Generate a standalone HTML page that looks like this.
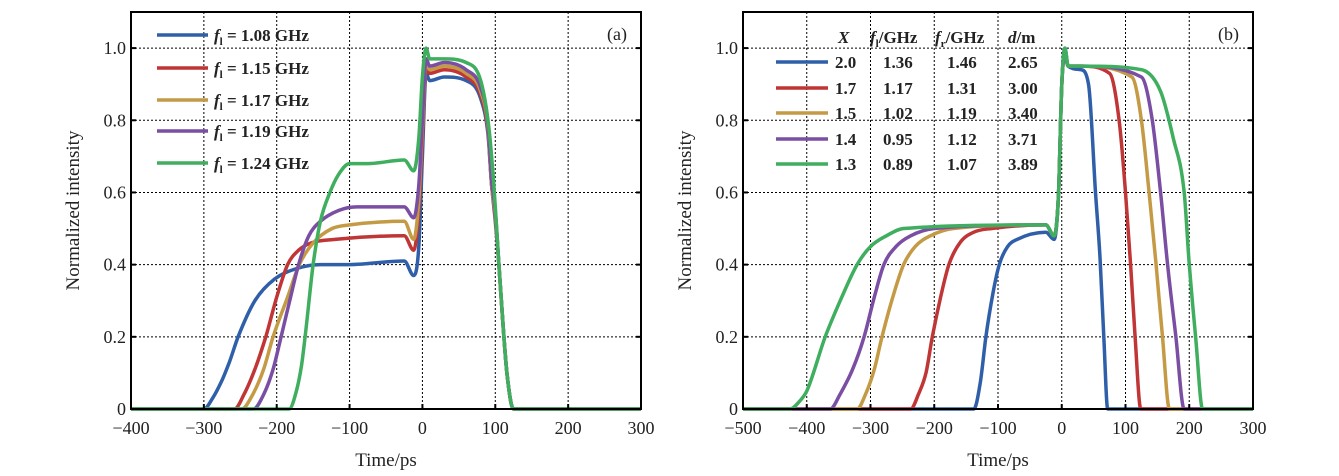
<!DOCTYPE html>
<html><head><meta charset="utf-8"><style>
html,body{margin:0;padding:0;background:#fff;width:1339px;height:476px;overflow:hidden}
svg text{font-family:"Liberation Serif",serif;fill:#222}
</style></head><body>
<svg id="fig" width="1339" height="476" xmlns="http://www.w3.org/2000/svg"></svg>
<script>
// ---- data ----
const colors = ["#2f5fa8","#c03535","#c49a45","#7a4ea3","#3fae5e"];
const legendA = ["1.08","1.15","1.17","1.19","1.24"];
const xTicksA = [-400,-300,-200,-100,0,100,200,300];
const xTicksB = [-500,-400,-300,-200,-100,0,100,200,300];
const yTicks = [0,0.2,0.4,0.6,0.8,1.0];
const yTickLabels = ["0","0.2","0.4","0.6","0.8","1.0"];
const colX = ["2.0","1.7","1.5","1.4","1.3"];
const colF1 = ["1.36","1.17","1.02","0.95","0.89"];
const colFr = ["1.46","1.31","1.19","1.12","1.07"];
const colD = ["2.65","3.00","3.40","3.71","3.89"];

const blueA_t=[-400,-300,-288,-275,-265,-253,-230,-203,-171,-140,-100,-25,-12,-5,0,5,10,30,60,80,90,95,100,105,110,116,125,300];
const blueA_v=[0,0,0.03,0.08,0.13,0.2,0.3,0.36,0.39,0.4,0.4,0.41,0.37,0.45,0.7,0.93,0.91,0.92,0.91,0.86,0.76,0.62,0.52,0.4,0.25,0.1,0,0];
const redA_t=[-400,-258,-245,-230,-215,-200,-185,-170,-153,-120,-25,-12,-5,0,5,10,30,60,80,90,95,100,105,110,116,125,300];
const redA_v=[0,0,0.04,0.11,0.2,0.31,0.4,0.44,0.46,0.47,0.48,0.44,0.55,0.75,0.95,0.93,0.94,0.92,0.87,0.77,0.62,0.53,0.4,0.25,0.1,0,0];
const goldA_t=[-400,-248,-233,-218,-205,-185,-169,-150,-124,-100,-25,-12,-5,0,5,10,30,60,80,90,95,100,105,110,116,125,300];
const goldA_v=[0,0,0.04,0.11,0.2,0.31,0.4,0.46,0.5,0.51,0.52,0.47,0.58,0.78,0.96,0.94,0.95,0.93,0.88,0.78,0.62,0.54,0.4,0.25,0.1,0,0];
const purpleA_t=[-400,-232,-218,-205,-194,-181,-170,-156,-140,-115,-90,-25,-12,-5,0,5,10,30,60,80,90,95,100,105,110,116,125,300];
const purpleA_v=[0,0,0.04,0.11,0.2,0.31,0.4,0.48,0.52,0.55,0.56,0.56,0.53,0.62,0.8,0.97,0.95,0.96,0.94,0.89,0.79,0.63,0.55,0.4,0.25,0.1,0,0];
const greenA_t=[-400,-183,-173,-166,-161,-150,-140,-127,-115,-100,-75,-25,-12,-5,0,5,10,30,60,80,90,95,100,105,110,116,125,300];
const greenA_v=[0,0,0.05,0.12,0.2,0.4,0.52,0.6,0.65,0.68,0.68,0.69,0.66,0.75,0.92,1.0,0.97,0.97,0.96,0.91,0.8,0.7,0.56,0.4,0.25,0.1,0,0];
const seriesA_t=[blueA_t,redA_t,goldA_t,purpleA_t,greenA_t];
const seriesA_v=[blueA_v,redA_v,goldA_v,purpleA_v,greenA_v];

const blueB_t=[-500,-138,-128,-119,-108,-98,-85,-70,-25,-12,-5,0,5,10,30,42,53,60,66,72,300];
const blueB_v=[0,0,0.07,0.2,0.32,0.4,0.45,0.47,0.49,0.47,0.6,0.9,1.0,0.95,0.94,0.9,0.6,0.42,0.2,0,0];
const redB_t=[-500,-237,-225,-213,-203,-190,-177,-160,-138,-110,-25,-12,-5,0,5,10,30,75,90,100,108,115,124,300];
const redB_v=[0,0,0.04,0.1,0.2,0.31,0.4,0.46,0.49,0.5,0.51,0.48,0.6,0.9,0.98,0.95,0.95,0.93,0.8,0.6,0.4,0.2,0,0];
const goldB_t=[-500,-321,-308,-294,-282,-265,-248,-230,-206,-170,-25,-12,-5,0,5,10,30,110,125,137,148,158,169,300];
const goldB_v=[0,0,0.04,0.11,0.2,0.31,0.4,0.45,0.48,0.5,0.51,0.48,0.6,0.9,0.98,0.95,0.95,0.92,0.8,0.6,0.4,0.2,0,0];
const purpleB_t=[-500,-363,-348,-328,-310,-294,-279,-260,-237,-200,-25,-12,-5,0,5,10,30,125,142,155,166,179,192,300];
const purpleB_v=[0,0,0.04,0.11,0.2,0.31,0.4,0.45,0.48,0.5,0.51,0.48,0.6,0.9,0.98,0.95,0.95,0.92,0.8,0.6,0.4,0.2,0,0];
const greenB_t=[-500,-426,-412,-400,-371,-345,-321,-300,-275,-248,-25,-12,-5,0,5,10,30,125,155,175,192,200,210,221,300];
const greenB_v=[0,0,0.02,0.05,0.2,0.31,0.4,0.45,0.48,0.5,0.51,0.48,0.6,0.9,1.0,0.95,0.95,0.94,0.88,0.75,0.6,0.4,0.2,0,0];
const seriesB_t=[blueB_t,redB_t,goldB_t,purpleB_t,greenB_t];
const seriesB_v=[blueB_v,redB_v,goldB_v,purpleB_v,greenB_v];

// ---- drawing ----
const NS="http://www.w3.org/2000/svg";
const svg=document.getElementById('fig');
function el(tag,attrs,parent,txt){const e=document.createElementNS(NS,tag);for(const k in attrs)e.setAttribute(k,attrs[k]);if(txt!==undefined)e.textContent=txt;(parent||svg).appendChild(e);return e;}

function smoothPath(px,py){
  const n=px.length,d=[],m=[];
  for(let i=0;i<n-1;i++)d.push((py[i+1]-py[i])/(px[i+1]-px[i]));
  m[0]=d[0];m[n-1]=d[n-2];
  for(let i=1;i<n-1;i++)m[i]=(d[i-1]*d[i]<=0)?0:(d[i-1]+d[i])/2;
  for(let i=0;i<n-1;i++){if(d[i]===0){m[i]=0;m[i+1]=0;continue;}const a=m[i]/d[i],b=m[i+1]/d[i],s=a*a+b*b;if(s>9){const t=3/Math.sqrt(s);m[i]=t*a*d[i];m[i+1]=t*b*d[i];}}
  let p='M'+px[0].toFixed(1)+','+py[0].toFixed(1);
  for(let i=0;i<n-1;i++){const h=(px[i+1]-px[i])/3;
    p+='C'+(px[i]+h).toFixed(1)+','+(py[i]+m[i]*h).toFixed(1)+' '+(px[i+1]-h).toFixed(1)+','+(py[i+1]-m[i+1]*h).toFixed(1)+' '+px[i+1].toFixed(1)+','+py[i+1].toFixed(1);}
  return p;
}

function panel(id,x0,x1,xmin,xmax,xTicks,ts,vs,label){
  const y0=409,yTop=12;
  const X=t=>x0+(t-xmin)/(xmax-xmin)*(x1-x0);
  const Y=v=>y0-v/1.1*(y0-yTop);
  const g=el('g',{});
  
  
  xTicks.forEach(t=>{if(t>xmin&&t<xmax){const l=el('line',{x1:X(t),x2:X(t),y1:yTop,y2:y0,stroke:'#000','stroke-width':1,'stroke-dasharray':'2,2'},g);}});
  yTicks.forEach(v=>{if(v>0){const l=el('line',{x1:x0,x2:x1,y1:Y(v),y2:Y(v),stroke:'#000','stroke-width':1,'stroke-dasharray':'2,2'},g);}});
  ts.forEach((tt,i)=>{
    const d=smoothPath(tt.map(X),vs[i].map(Y));
    const p=el('path',{d:d,fill:'none',stroke:colors[i],'stroke-width':3.5,'stroke-linejoin':'round'},g);
    
    
  });
  const f=el('rect',{x:x0,y:yTop,width:x1-x0,height:y0-yTop,fill:'none',stroke:'#000','stroke-width':2},g);
  
  
  xTicks.forEach(t=>{
    el('line',{x1:X(t),x2:X(t),y1:y0,y2:y0-5,stroke:'#000','stroke-width':2},g);
    const s=t<0?'\u2212'+(-t):String(t);
    const tx=el('text',{x:X(t),y:y0+25,'text-anchor':'middle','font-size':18},g,s);
    
    
  });
  yTicks.forEach((v,i)=>{
    el('line',{x1:x0,x2:x0+5,y1:Y(v),y2:Y(v),stroke:'#000','stroke-width':2},g);
    el('line',{x1:x1,x2:x1-5,y1:Y(v),y2:Y(v),stroke:'#000','stroke-width':2},g);
    const tx=el('text',{x:x0-5,y:Y(v)+6,'text-anchor':'end','font-size':18},g,yTickLabels[i]);
    
    
  });
  const xl=el('text',{x:(x0+x1)/2,y:466,'text-anchor':'middle','font-size':19},g,'Time/ps');
  
  
  const yl=el('text',{x:0,y:0,'text-anchor':'middle','font-size':19,transform:`translate(${x0-52},${(yTop+y0)/2}) rotate(-90)`},g,'Normalized intensity');
  
  
  const pl=el('text',{x:x1-14,y:40,'text-anchor':'end','font-size':18},g,label);
  
  
  return g;
}
const gA=panel('panel-a',131,641,-400,300,xTicksA,seriesA_t,seriesA_v,'(a)');
const gB=panel('panel-b',743,1253,-500,300,xTicksB,seriesB_t,seriesB_v,'(b)');

const legYA=[35,68,100,131,163];
legendA.forEach((f,i)=>{
  const l=el('line',{x1:157,x2:208,y1:legYA[i],y2:legYA[i],stroke:colors[i],'stroke-width':3.5},gA);
  
  
  const t=el('text',{x:214,y:legYA[i]+6,'font-size':17,'font-weight':'bold'},gA);
  
  
  el('tspan',{'font-style':'italic'},t,'f');
  el('tspan',{'font-size':11,dy:4},t,'l');
  el('tspan',{dy:-4},t,' = '+f+' GHz');
});
const legYB=[62,88,113,139,164];
const hdr=el('text',{x:0,y:43,'font-size':17,'font-weight':'bold'},gB);


el('tspan',{x:838,'font-style':'italic'},hdr,'X');
el('tspan',{x:870,'font-style':'italic'},hdr,'f');
el('tspan',{'font-size':11,dy:4},hdr,'l');
el('tspan',{dy:-4},hdr,'/GHz');
el('tspan',{x:935,'font-style':'italic'},hdr,'f');
el('tspan',{'font-size':11,dy:4},hdr,'r');
el('tspan',{dy:-4},hdr,'/GHz');
el('tspan',{x:1008,'font-style':'italic'},hdr,'d');
el('tspan',{},hdr,'/m');
colX.forEach((x,i)=>{
  const l=el('line',{x1:776,x2:828,y1:legYB[i],y2:legYB[i],stroke:colors[i],'stroke-width':3.5},gB);
  
  
  const t=el('text',{x:0,y:legYB[i]+6,'font-size':17,'font-weight':'bold'},gB);
  
  
  el('tspan',{x:835},t,x);
  el('tspan',{x:883},t,colF1[i]);
  el('tspan',{x:947},t,colFr[i]);
  el('tspan',{x:1008},t,colD[i]);
});
</script>
</body></html>
